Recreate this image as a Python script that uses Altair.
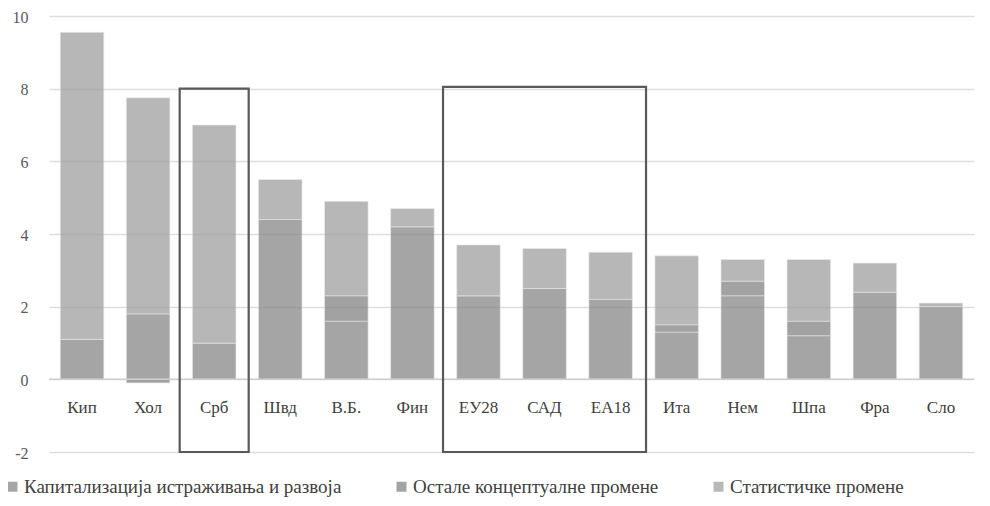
import altair as alt
import pandas as pd

cats = ["Кип", "Хол", "Срб", "Швд", "В.Б.", "Фин", "ЕУ28", "САД", "ЕА18", "Ита", "Нем", "Шпа", "Фра", "Сло"]
series = ["Капитализација истраживања и развоја", "Остале концептуалне промене", "Статистичке промене"]
rd = [1.1, 1.8, 1.0, 4.4, 1.6, 4.2, 2.3, 2.5, 2.2, 1.3, 2.3, 1.2, 2.4, 2.0]
other = [0.0, -0.1, 0.0, 0.0, 0.7, 0.0, 0.0, 0.0, 0.0, 0.2, 0.4, 0.4, 0.0, 0.0]
stat = [8.45, 5.95, 6.0, 1.1, 2.6, 0.5, 1.4, 1.1, 1.3, 1.9, 0.6, 1.7, 0.8, 0.1]
colors = ["#808080", "#7c7c7c", "#9a9a9a"]

# highlight boxes: center category, top, bottom, width in px
box_center = ["Срб", "САД"]
box_top = [8.0, 8.05]
box_bottom = [-2.0, -2.0]
box_width = [69, 203]

FONT = "Liberation Serif"

rows = []
for i, c in enumerate(cats):
    for k, (s, vals) in enumerate(zip(series, [rd, other, stat])):
        rows.append({"cat": c, "series": s, "value": vals[i], "ord": k})
df = pd.DataFrame(rows)
labels_df = pd.DataFrame({"cat": cats})
box_df = pd.DataFrame({"cat": box_center, "top": box_top, "bottom": box_bottom, "w": box_width})

xscale = alt.Scale(domain=cats, paddingInner=0.34, paddingOuter=0.17)
yscale = alt.Scale(domain=[-2, 10], nice=False)

bars = alt.Chart(df).mark_bar(opacity=0.7, stroke="#e6e6e6", strokeWidth=0.6).encode(
    x=alt.X("cat:N", scale=xscale, sort=cats, axis=None),
    y=alt.Y("value:Q", scale=yscale, stack="zero",
            axis=alt.Axis(values=[-2, 0, 2, 4, 6, 8, 10], grid=True, gridColor="#dedede",
                          gridWidth=1.5, domain=False, ticks=False, labelPadding=21,
                          labelExpr="datum.value + ''", labelOffset=1,
                          labelFont=FONT, labelFontSize=16, labelColor="#595959",
                          title=None)),
    color=alt.Color("series:N", scale=alt.Scale(domain=series, range=colors),
                    legend=alt.Legend(title=None, orient="none", legendX=-46, legendY=461,
                                      direction="horizontal", symbolType="square",
                                      symbolSize=100, symbolStrokeWidth=0, symbolOpacity=0.7,
                                      labelFont=FONT, labelFontSize=19,
                                      labelColor="#404040", labelLimit=600,
                                      columnPadding=50, symbolOffset=0, labelOffset=2)),
    order=alt.Order("ord:Q"),
)

zero = alt.Chart(labels_df.head(1)).mark_rule(color="#cfcfcf", strokeWidth=1.5).encode(
    y=alt.datum(0, scale=yscale)
)

labels = alt.Chart(labels_df).mark_text(font=FONT, fontSize=17, color="#404040").encode(
    x=alt.X("cat:N", scale=xscale, sort=cats, axis=None),
    y=alt.datum(-0.8, scale=yscale),
    text="cat:N",
)

boxes = []
for i in range(len(box_center)):
    b = alt.Chart(box_df.iloc[[i]]).mark_bar(filled=False, stroke="#595959", strokeWidth=2.2,
                                                width=box_width[i]).encode(
        x=alt.X("cat:N", scale=xscale, sort=cats, axis=None),
        y=alt.Y("top:Q", scale=yscale),
        y2="bottom:Q",
    )
    boxes.append(b)

chart = alt.layer(bars, zero, labels, *boxes).properties(
    width=925, height=436,
    autosize=alt.AutoSizeParams(type="none"),
    padding={"left": 41, "top": 8, "right": 8, "bottom": 46},
).configure_view(stroke=None)

chart.save("out.html", embed_options={"renderer": "svg", "actions": False})
